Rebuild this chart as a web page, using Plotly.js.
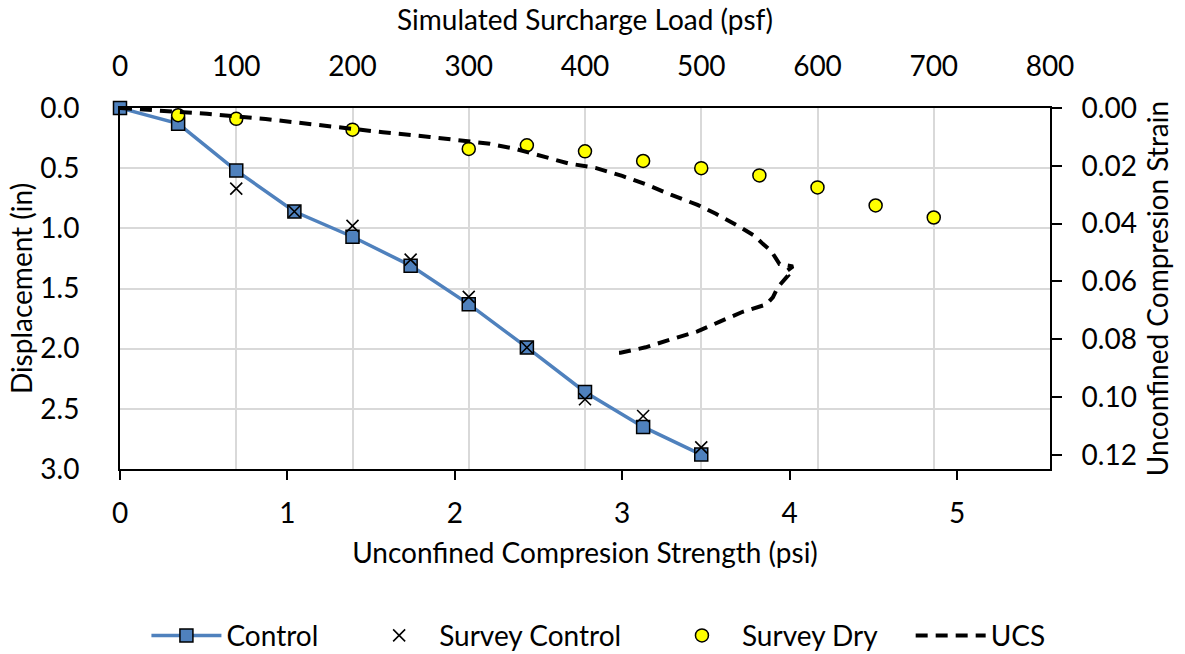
<!DOCTYPE html>
<html>
<head>
<meta charset="utf-8">
<script src="https://cdn.plot.ly/plotly-3.0.1.min.js"></script>
<style>html,body{margin:0;padding:0;background:#fff;}#chart{width:1185px;height:654px;}</style>
</head>
<body>
<div id="chart"></div>
<script>
// Simulated surcharge load (psf) for measured series
const controlLoad = [0, 50, 100, 150, 200, 250, 300, 350, 400, 450, 500];
const controlDisp = [0, 0.13, 0.52, 0.86, 1.07, 1.31, 1.63, 1.99, 2.36, 2.65, 2.88];

const surveyControlLoad = [100, 150, 200, 250, 300, 350, 400, 450, 500];
const surveyControlDisp = [0.67, 0.86, 0.98, 1.26, 1.57, 1.99, 2.42, 2.56, 2.82];

const surveyDryLoad = [50, 100, 200, 300, 350, 400, 450, 500, 550, 600, 650, 700];
const surveyDryDisp = [0.06, 0.09, 0.18, 0.34, 0.31, 0.36, 0.44, 0.50, 0.56, 0.66, 0.81, 0.91];

// UCS curve: strength (psi) vs strain
const ucsStrength = [0, 0.52, 0.87, 1.12, 1.57, 1.85, 2.03, 2.21, 2.36, 2.52, 2.68, 2.84, 3.00, 3.15, 3.29, 3.45, 3.56, 3.68, 3.79, 3.84, 3.89, 3.94, 4.02, 3.97, 3.99, 3.93, 3.90, 3.86, 3.72, 3.58, 3.45, 3.30, 3.14, 2.99, 2.94];
const ucsStrain = [0, 0.0020, 0.0038, 0.0055, 0.0084, 0.0100, 0.0112, 0.0124, 0.0141, 0.0168, 0.0192, 0.0207, 0.0235, 0.0266, 0.0300, 0.0335, 0.0366, 0.0404, 0.0442, 0.0470, 0.0495, 0.0540, 0.0548, 0.0570, 0.0580, 0.0620, 0.0655, 0.0680, 0.0705, 0.0740, 0.0773, 0.0799, 0.0828, 0.0847, 0.0848];

const legendNames = ['Control', 'Survey Control', 'Survey Dry', 'UCS'];

const FONT = 'Lato, Open Sans, sans-serif';
const FS = 28;
const NB = '\u00a0';

const traces = [
  {
    name: legendNames[0] + NB.repeat(5), x: controlLoad, y: controlDisp, xaxis: 'x', yaxis: 'y',
    type: 'scatter', mode: 'lines+markers', cliponaxis: false,
    line: {color: '#4F81BD', width: 3.5},
    marker: {symbol: 'square', size: 13, color: '#4F81BD', line: {color: '#000', width: 1.5}}
  },
  {
    name: legendNames[1] + NB.repeat(5), x: surveyControlLoad, y: surveyControlDisp, xaxis: 'x', yaxis: 'y',
    type: 'scatter', mode: 'markers', cliponaxis: false,
    marker: {symbol: 'x-thin', size: 12, color: '#000', line: {color: '#000', width: 1.6}}
  },
  {
    name: legendNames[2] + NB.repeat(4), x: surveyDryLoad, y: surveyDryDisp, xaxis: 'x', yaxis: 'y',
    type: 'scatter', mode: 'markers', cliponaxis: false,
    marker: {symbol: 'circle', size: 13, color: '#FFFF00', line: {color: '#000', width: 1.5}}
  },
  {
    name: legendNames[3], x: ucsStrength, y: ucsStrain, xaxis: 'x2', yaxis: 'y2',
    type: 'scatter', mode: 'lines', cliponaxis: false,
    line: {color: '#000', width: 4, dash: '12px,8px'}
  }
];

const layout = {
  width: 1185, height: 654,
  margin: {l: 120, r: 135, t: 108, b: 185},
  paper_bgcolor: '#fff', plot_bgcolor: '#fff',
  font: {family: FONT, size: FS, color: '#000'},
  showlegend: true,
  legend: {
    orientation: 'h', xref: 'container', yref: 'container',
    x: 0.505, xanchor: 'center', y: 0.028, yanchor: 'middle',
    font: {family: FONT, size: FS, color: '#000'},
    itemwidth: 70, traceorder: 'normal'
  },
  // top axis: simulated surcharge load (psf)
  xaxis: {
    range: [0, 800], dtick: 100, tick0: 0, side: 'top', anchor: 'y',
    showgrid: true, gridcolor: '#D9D9D9', gridwidth: 2, zeroline: false,
    showline: true, linecolor: '#000', linewidth: 2,
    ticks: '', ticklabelstandoff: 19,
    title: {text: 'Simulated Surcharge Load (psf)', font: {family: FONT, size: FS}, standoff: 9}
  },
  // left axis: displacement (in)
  yaxis: {
    range: [3, 0], dtick: 0.5, tick0: 0, tickformat: '.1f',
    showgrid: true, gridcolor: '#D9D9D9', gridwidth: 2, zeroline: false,
    showline: true, linecolor: '#000', linewidth: 2,
    ticks: '', ticklabelstandoff: 33,
    title: {text: 'Displacement (in)', font: {family: FONT, size: FS}, standoff: 0},
    anchor: 'x'
  },
  // bottom axis: unconfined compression strength (psi)
  xaxis2: {
    range: [0, 800 / 144], dtick: 1, tick0: 0, overlaying: 'x', side: 'bottom', anchor: 'y2',
    showgrid: false, zeroline: false,
    showline: true, linecolor: '#000', linewidth: 2,
    ticks: 'outside', ticklen: 9, tickwidth: 2, tickcolor: '#000',
    ticklabelstandoff: 9,
    title: {text: 'Unconfined Compresion Strength (psi)', font: {family: FONT, size: FS}, standoff: 16}
  },
  // right axis: unconfined compression strain
  yaxis2: {
    range: [0.1249, 0], dtick: 0.02, tick0: 0, tickformat: '.2f',
    overlaying: 'y', side: 'right', anchor: 'x2',
    showgrid: false, zeroline: false,
    showline: true, linecolor: '#000', linewidth: 2,
    ticks: 'outside', ticklen: 10, tickwidth: 2, tickcolor: '#000',
    ticklabelstandoff: 14,
    title: {text: 'Unconfined Compresion Strain', font: {family: FONT, size: FS}, standoff: 12}
  }
};

Plotly.newPlot('chart', traces, layout, {displayModeBar: false, staticPlot: true});
</script>
</body>
</html>
